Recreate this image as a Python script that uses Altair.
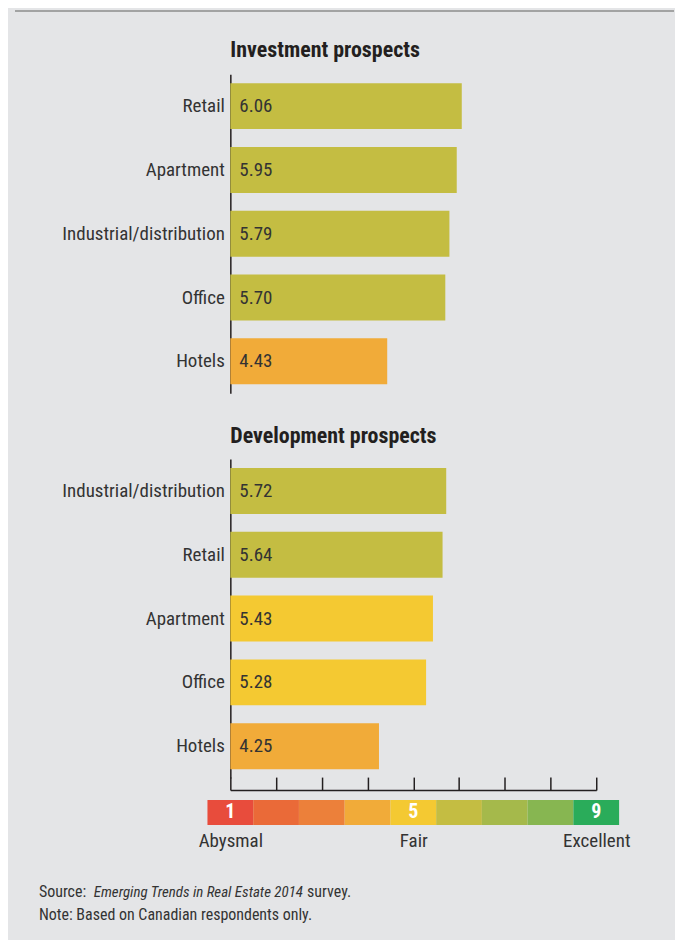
import altair as alt
import pandas as pd

FONT = "Liberation Sans Narrow, Roboto Condensed, DejaVu Sans Condensed, Arial Narrow, sans-serif"

# ---- data ----
inv_cats = ["Retail", "Apartment", "Industrial/distribution", "Office", "Hotels"]
inv_vals = [6.06, 5.95, 5.79, 5.70, 4.43]
dev_cats = ["Industrial/distribution", "Retail", "Apartment", "Office", "Hotels"]
dev_vals = [5.72, 5.64, 5.43, 5.28, 4.25]

scale_vals = [1, 2, 3, 4, 5, 6, 7, 8, 9]
scale_colors = ["#e84c3c", "#ea6a38", "#ec803a", "#f1ab39", "#f4c932",
                "#c4bd42", "#a5b94b", "#87b651", "#2aac5a"]
scale_nums = ["1", "", "", "", "5", "", "", "", "9"]
scale_names = {1: "Abysmal", 5: "Fair", 9: "Excellent"}

note_texts = ["Source:", "Emerging Trends in Real Estate 2014", "survey.",
              "Note: Based on Canadian respondents only."]

TXT = "#333333"
DARK = "#231f20"
BG = "#e4e5e7"

xscale = alt.Scale(domain=[1, 9], zero=False, nice=False)


def panel(cats, vals, title, height, title_offset, bottom_ticks=False):
    df = pd.DataFrame({
        "cat": cats,
        "value": vals,
        "base": [1] * len(cats),
        "label": [f"{v:.2f}" for v in vals],
        "color": [scale_colors[int(round(v)) - 1] for v in vals],
    })
    if bottom_ticks:
        xaxis = alt.Axis(orient="top", offset=-height, values=scale_vals, labels=False,
                         ticks=True, tickSize=13, tickColor=DARK, tickWidth=1.5,
                         domainColor=DARK, domainWidth=1.5, grid=False, title=None)
    else:
        xaxis = None
    y = alt.Y("cat:N", sort=cats,
              scale=alt.Scale(range=[0, 320], paddingInner=0.28, paddingOuter=0.14),
              axis=alt.Axis(title=None, domainColor=DARK, domainWidth=1.5, ticks=False,
                            labelFontSize=19, labelFont=FONT, labelColor=TXT,
                            labelPadding=6))
    bars = alt.Chart(df).mark_bar().encode(
        x=alt.X("value:Q", scale=xscale, axis=xaxis),
        x2="base:Q",
        y=y,
        color=alt.Color("color:N", scale=None),
    )
    labels = alt.Chart(df).mark_text(align="left", baseline="middle", dx=9,
                                     fontSize=19, font=FONT, color=TXT).encode(
        x=alt.X("base:Q", scale=xscale, axis=xaxis),
        y=y,
        text="label:N",
    )
    return alt.layer(bars, labels).properties(
        width=367, height=height,
        title=alt.TitleParams(title, anchor="start", frame="group", fontSize=22,
                              fontWeight="bold", font=FONT, color=DARK,
                              baseline="bottom", offset=title_offset),
    )


A = panel(inv_cats, inv_vals, "Investment prospects", 376, -10)
B = panel(dev_cats, dev_vals, "Development prospects", 332, -11, bottom_ticks=True)

leg_df = pd.DataFrame({
    "v": scale_vals,
    "lo": [v - 0.5 for v in scale_vals],
    "hi": [v + 0.5 for v in scale_vals],
    "color": scale_colors,
    "num": scale_nums,
})
name_expr = "datum.value == 1 ? 'Abysmal' : datum.value == 5 ? 'Fair' : 'Excellent'"
leg_axis = alt.Axis(values=list(scale_names.keys()), labelExpr=name_expr, domain=False,
                    ticks=False, labelFontSize=19, labelFont=FONT, labelColor=TXT,
                    labelPadding=7, labelFlush=False, grid=False, title=None)
rects = alt.Chart(leg_df).mark_rect().encode(
    x=alt.X("lo:Q", scale=xscale, axis=leg_axis),
    x2="hi:Q",
    color=alt.Color("color:N", scale=None),
)
nums = alt.Chart(leg_df).mark_text(baseline="middle", fontSize=20, fontWeight="bold",
                                   font=FONT, color="white").encode(
    x=alt.X("v:Q", scale=xscale, axis=leg_axis),
    text="num:N",
)
note_df = pd.DataFrame({"t": note_texts})
n1 = alt.Chart(note_df).transform_filter("datum.t == 'Source:'").mark_text(
    align="left", baseline="alphabetic", fontSize=16, font=FONT, color=TXT).encode(
    x=alt.value(-192), y=alt.value(97), text="t:N")
n2 = alt.Chart(note_df).transform_filter("indexof(datum.t, 'Emerging') == 0").mark_text(
    align="left", baseline="alphabetic", fontSize=15, font=FONT, color=TXT,
    fontStyle="italic").encode(
    x=alt.value(-137), y=alt.value(97), text="t:N")
n3 = alt.Chart(note_df).transform_filter("datum.t == 'survey.'").mark_text(
    align="left", baseline="alphabetic", fontSize=16, font=FONT, color=TXT).encode(
    x=alt.value(77), y=alt.value(97), text="t:N")
n4 = alt.Chart(note_df).transform_filter("indexof(datum.t, 'Note') == 0").mark_text(
    align="left", baseline="alphabetic", fontSize=16, font=FONT, color=TXT).encode(
    x=alt.value(-192), y=alt.value(120), text="t:N")
top_line = alt.Chart(pd.DataFrame({"a": [0]})).mark_rule(
    color="#8c8c8c", strokeWidth=1.5).encode(
    x=alt.value(-216), x2=alt.value(445), y=alt.value(-791.5))

D = alt.layer(rects, nums, n1, n2, n3, n4, top_line).properties(width=367, height=25)

chart = alt.vconcat(A, B, D, spacing=10, bounds="flush").properties(
    background=BG,
    padding={"left": 6, "top": 0, "right": 0, "bottom": 16},
).configure_view(stroke=None)

chart.save("out.html", embed_options={"renderer": "svg", "actions": False})
